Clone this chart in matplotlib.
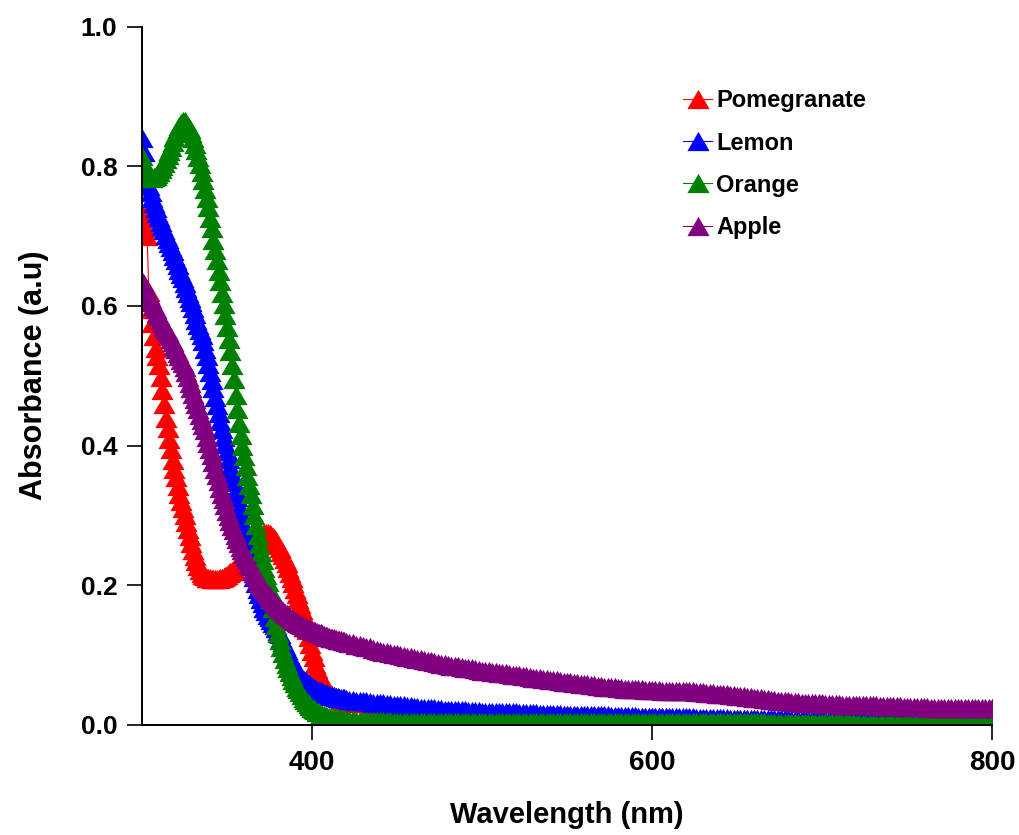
import matplotlib
matplotlib.use("Agg")
import matplotlib.pyplot as plt

plt.rcParams['font.family'] = ['Liberation Sans', 'DejaVu Sans']
plt.rcParams['font.weight'] = 'bold'

# wavelength grid (nm): 1 nm steps up to 419, then 2 nm steps
wavelength = list(range(300, 420)) + list(range(420, 801, 2))

pomegranate = [
    # 300-419 nm, 1 nm
    0.735, 0.725, 0.712, 0.700, 0.620, 0.595, 0.575, 0.557, 0.540, 0.528,
    0.515, 0.498, 0.480, 0.460, 0.440, 0.425, 0.410, 0.395, 0.380, 0.367,
    0.355, 0.342, 0.330, 0.320, 0.310, 0.300, 0.290, 0.280, 0.270, 0.260,
    0.250, 0.242, 0.235, 0.228, 0.222, 0.218, 0.215, 0.213, 0.211, 0.210,
    0.210, 0.209, 0.209, 0.209, 0.209, 0.209, 0.210, 0.211, 0.212, 0.213,
    0.215, 0.217, 0.219, 0.221, 0.224, 0.227, 0.230, 0.233, 0.237, 0.240,
    0.244, 0.247, 0.251, 0.254, 0.258, 0.261, 0.264, 0.267, 0.269, 0.271,
    0.273, 0.274, 0.275, 0.275, 0.275, 0.274, 0.272, 0.269, 0.266, 0.262,
    0.257, 0.253, 0.248, 0.243, 0.238, 0.232, 0.225, 0.218, 0.210, 0.203,
    0.195, 0.188, 0.180, 0.173, 0.165, 0.156, 0.146, 0.136, 0.126, 0.116,
    0.106, 0.097, 0.088, 0.080, 0.073, 0.067, 0.062, 0.057, 0.053, 0.050,
    0.047, 0.045, 0.043, 0.041, 0.040, 0.039, 0.038, 0.037, 0.036, 0.035,
    # 420-800 nm, 2 nm
    0.034, 0.033, 0.033, 0.032, 0.032, 0.031, 0.031, 0.030, 0.030, 0.029,
    0.029, 0.028, 0.028, 0.027, 0.027, 0.026, 0.026, 0.025, 0.025, 0.024,
    0.024, 0.023, 0.023, 0.023, 0.022, 0.022, 0.021, 0.021, 0.021, 0.020,
    0.020, 0.020, 0.019, 0.019, 0.019, 0.019, 0.018, 0.018, 0.018, 0.018,
    0.017, 0.017, 0.017, 0.017, 0.017, 0.016, 0.016, 0.016, 0.016, 0.016,
    0.016, 0.016, 0.015, 0.015, 0.015, 0.015, 0.015, 0.015, 0.015, 0.014,
    0.014, 0.014, 0.014, 0.014, 0.014, 0.014, 0.014, 0.014, 0.013, 0.013,
    0.013, 0.013, 0.013, 0.013, 0.013, 0.013, 0.013, 0.012, 0.012, 0.012,
    0.012, 0.012, 0.012, 0.012, 0.012, 0.012, 0.012, 0.011, 0.011, 0.011,
    0.011, 0.011, 0.011, 0.011, 0.011, 0.010, 0.010, 0.010, 0.010, 0.010,
    0.010, 0.010, 0.010, 0.010, 0.009, 0.009, 0.009, 0.009, 0.009, 0.009,
    0.009, 0.009, 0.009, 0.008, 0.008, 0.008, 0.008, 0.008, 0.008, 0.008,
    0.008, 0.008, 0.007, 0.007, 0.007, 0.007, 0.007, 0.007, 0.007, 0.007,
    0.007, 0.006, 0.006, 0.006, 0.006, 0.006, 0.006, 0.006, 0.006, 0.006,
    0.006, 0.005, 0.005, 0.005, 0.005, 0.005, 0.005, 0.005, 0.005, 0.005,
    0.005, 0.005, 0.005, 0.005, 0.004, 0.004, 0.004, 0.004, 0.004, 0.004,
    0.004, 0.004, 0.004, 0.004, 0.004, 0.004, 0.004, 0.004, 0.004, 0.004,
    0.004, 0.004, 0.004, 0.004, 0.004, 0.003, 0.003, 0.003, 0.003, 0.003,
    0.003, 0.003, 0.003, 0.003, 0.003, 0.003, 0.003, 0.003, 0.003, 0.003,
    0.003,
]

lemon = [
    # 300-419 nm, 1 nm
    0.840, 0.820, 0.800, 0.785, 0.772, 0.763, 0.755, 0.747, 0.740, 0.733,
    0.727, 0.720, 0.714, 0.708, 0.702, 0.696, 0.690, 0.684, 0.678, 0.671,
    0.665, 0.658, 0.652, 0.646, 0.640, 0.633, 0.626, 0.619, 0.612, 0.605,
    0.597, 0.589, 0.580, 0.573, 0.565, 0.558, 0.550, 0.539, 0.528, 0.517,
    0.505, 0.494, 0.482, 0.470, 0.458, 0.446, 0.435, 0.424, 0.413, 0.403,
    0.392, 0.381, 0.370, 0.359, 0.348, 0.337, 0.326, 0.314, 0.302, 0.290,
    0.279, 0.267, 0.255, 0.243, 0.231, 0.221, 0.212, 0.203, 0.195, 0.187,
    0.180, 0.174, 0.168, 0.163, 0.158, 0.154, 0.150, 0.146, 0.143, 0.139,
    0.135, 0.130, 0.125, 0.119, 0.113, 0.107, 0.102, 0.097, 0.092, 0.087,
    0.083, 0.079, 0.075, 0.071, 0.068, 0.065, 0.063, 0.061, 0.059, 0.057,
    0.055, 0.053, 0.052, 0.050, 0.049, 0.048, 0.047, 0.046, 0.045, 0.044,
    0.043, 0.042, 0.042, 0.041, 0.040, 0.040, 0.039, 0.039, 0.038, 0.038,
    # 420-800 nm, 2 nm
    0.037, 0.036, 0.036, 0.035, 0.035, 0.034, 0.034, 0.033, 0.032, 0.032,
    0.031, 0.031, 0.030, 0.030, 0.029, 0.029, 0.028, 0.028, 0.027, 0.027,
    0.026, 0.026, 0.025, 0.025, 0.025, 0.024, 0.024, 0.023, 0.023, 0.022,
    0.022, 0.022, 0.021, 0.021, 0.021, 0.021, 0.020, 0.020, 0.020, 0.020,
    0.019, 0.019, 0.019, 0.019, 0.019, 0.018, 0.018, 0.018, 0.018, 0.018,
    0.018, 0.017, 0.017, 0.017, 0.017, 0.017, 0.017, 0.016, 0.016, 0.016,
    0.016, 0.016, 0.016, 0.016, 0.015, 0.015, 0.015, 0.015, 0.015, 0.015,
    0.015, 0.014, 0.014, 0.014, 0.014, 0.014, 0.014, 0.014, 0.013, 0.013,
    0.013, 0.013, 0.013, 0.013, 0.013, 0.013, 0.012, 0.012, 0.012, 0.012,
    0.012, 0.012, 0.012, 0.012, 0.011, 0.011, 0.011, 0.011, 0.011, 0.011,
    0.011, 0.011, 0.011, 0.010, 0.010, 0.010, 0.010, 0.010, 0.010, 0.010,
    0.010, 0.010, 0.010, 0.009, 0.009, 0.009, 0.009, 0.009, 0.009, 0.009,
    0.009, 0.009, 0.008, 0.008, 0.008, 0.008, 0.008, 0.008, 0.008, 0.008,
    0.008, 0.007, 0.007, 0.007, 0.007, 0.007, 0.007, 0.007, 0.007, 0.007,
    0.006, 0.006, 0.006, 0.006, 0.006, 0.006, 0.006, 0.006, 0.006, 0.006,
    0.006, 0.006, 0.006, 0.006, 0.006, 0.006, 0.006, 0.006, 0.006, 0.006,
    0.006, 0.006, 0.006, 0.006, 0.006, 0.005, 0.005, 0.005, 0.005, 0.005,
    0.005, 0.005, 0.005, 0.005, 0.005, 0.005, 0.005, 0.005, 0.005, 0.005,
    0.005, 0.005, 0.005, 0.005, 0.005, 0.005, 0.005, 0.005, 0.005, 0.005,
    0.005,
]

orange = [
    # 300-419 nm, 1 nm
    0.815, 0.803, 0.795, 0.789, 0.785, 0.783, 0.783, 0.784, 0.786, 0.789,
    0.792, 0.796, 0.800, 0.805, 0.810, 0.816, 0.822, 0.828, 0.835, 0.842,
    0.848, 0.853, 0.858, 0.862, 0.865, 0.865, 0.862, 0.858, 0.853, 0.847,
    0.840, 0.832, 0.823, 0.813, 0.803, 0.792, 0.780, 0.768, 0.755, 0.741,
    0.726, 0.711, 0.695, 0.680, 0.665, 0.650, 0.635, 0.619, 0.603, 0.587,
    0.570, 0.553, 0.535, 0.515, 0.495, 0.473, 0.452, 0.433, 0.415, 0.400,
    0.385, 0.371, 0.357, 0.344, 0.330, 0.315, 0.300, 0.286, 0.272, 0.259,
    0.247, 0.236, 0.225, 0.215, 0.205, 0.193, 0.180, 0.167, 0.155, 0.143,
    0.132, 0.122, 0.112, 0.103, 0.095, 0.088, 0.082, 0.076, 0.070, 0.065,
    0.060, 0.055, 0.051, 0.047, 0.043, 0.039, 0.036, 0.033, 0.030, 0.027,
    0.025, 0.023, 0.021, 0.019, 0.018, 0.016, 0.015, 0.014, 0.013, 0.012,
    0.011, 0.011, 0.010, 0.010, 0.009, 0.009, 0.008, 0.008, 0.008, 0.007,
    # 420-800 nm, 2 nm
    0.007, 0.007, 0.007, 0.006, 0.006, 0.006, 0.006, 0.006, 0.006, 0.006,
    0.006, 0.006, 0.006, 0.006, 0.005, 0.005, 0.005, 0.005, 0.005, 0.005,
    0.005, 0.005, 0.005, 0.005, 0.005, 0.005, 0.005, 0.005, 0.005, 0.005,
    0.005, 0.005, 0.005, 0.005, 0.005, 0.005, 0.005, 0.005, 0.005, 0.005,
    0.005, 0.005, 0.005, 0.005, 0.005, 0.005, 0.005, 0.005, 0.005, 0.005,
    0.005, 0.005, 0.005, 0.005, 0.005, 0.005, 0.005, 0.005, 0.005, 0.005,
    0.005, 0.005, 0.005, 0.005, 0.005, 0.005, 0.005, 0.005, 0.005, 0.005,
    0.004, 0.004, 0.004, 0.004, 0.004, 0.004, 0.004, 0.004, 0.004, 0.004,
    0.004, 0.004, 0.004, 0.004, 0.004, 0.004, 0.004, 0.004, 0.004, 0.004,
    0.004, 0.004, 0.004, 0.004, 0.004, 0.004, 0.004, 0.004, 0.004, 0.004,
    0.004, 0.004, 0.004, 0.004, 0.004, 0.004, 0.004, 0.004, 0.004, 0.004,
    0.004, 0.004, 0.004, 0.004, 0.004, 0.004, 0.004, 0.004, 0.004, 0.004,
    0.004, 0.004, 0.004, 0.004, 0.003, 0.003, 0.003, 0.003, 0.003, 0.003,
    0.003, 0.003, 0.003, 0.003, 0.003, 0.003, 0.003, 0.003, 0.003, 0.003,
    0.003, 0.003, 0.003, 0.003, 0.003, 0.003, 0.003, 0.003, 0.003, 0.003,
    0.002, 0.002, 0.002, 0.002, 0.002, 0.002, 0.002, 0.002, 0.002, 0.002,
    0.002, 0.002, 0.002, 0.002, 0.002, 0.002, 0.002, 0.002, 0.002, 0.002,
    0.001, 0.001, 0.001, 0.001, 0.001, 0.001, 0.001, 0.001, 0.001, 0.001,
    0.000, 0.000, 0.000, 0.000, 0.000, 0.000, 0.000, 0.000, 0.000, 0.000,
    0.000,
]

apple = [
    # 300-419 nm, 1 nm
    0.635, 0.631, 0.626, 0.621, 0.616, 0.610, 0.605, 0.600, 0.595, 0.590,
    0.585, 0.580, 0.575, 0.570, 0.566, 0.562, 0.558, 0.553, 0.548, 0.543,
    0.538, 0.533, 0.528, 0.523, 0.518, 0.512, 0.505, 0.498, 0.490, 0.482,
    0.474, 0.467, 0.460, 0.452, 0.444, 0.437, 0.430, 0.422, 0.413, 0.404,
    0.395, 0.386, 0.376, 0.367, 0.358, 0.349, 0.340, 0.331, 0.323, 0.315,
    0.307, 0.299, 0.292, 0.285, 0.279, 0.272, 0.266, 0.260, 0.255, 0.250,
    0.245, 0.240, 0.236, 0.231, 0.227, 0.222, 0.218, 0.213, 0.209, 0.205,
    0.201, 0.197, 0.194, 0.191, 0.188, 0.185, 0.182, 0.179, 0.176, 0.173,
    0.171, 0.168, 0.166, 0.163, 0.161, 0.159, 0.157, 0.155, 0.153, 0.151,
    0.149, 0.147, 0.146, 0.144, 0.143, 0.141, 0.140, 0.139, 0.138, 0.137,
    0.136, 0.135, 0.134, 0.133, 0.132, 0.131, 0.130, 0.129, 0.128, 0.127,
    0.126, 0.125, 0.125, 0.124, 0.123, 0.122, 0.122, 0.121, 0.120, 0.120,
    # 420-800 nm, 2 nm
    0.119, 0.118, 0.117, 0.115, 0.114, 0.113, 0.112, 0.111, 0.109, 0.108,
    0.106, 0.105, 0.104, 0.103, 0.102, 0.101, 0.100, 0.099, 0.098, 0.097,
    0.096, 0.095, 0.094, 0.093, 0.092, 0.091, 0.090, 0.089, 0.088, 0.087,
    0.086, 0.085, 0.084, 0.084, 0.083, 0.082, 0.081, 0.081, 0.080, 0.079,
    0.078, 0.078, 0.077, 0.076, 0.076, 0.075, 0.074, 0.074, 0.073, 0.072,
    0.071, 0.071, 0.070, 0.070, 0.069, 0.068, 0.068, 0.067, 0.066, 0.066,
    0.065, 0.064, 0.064, 0.063, 0.062, 0.062, 0.061, 0.060, 0.060, 0.059,
    0.058, 0.058, 0.057, 0.057, 0.056, 0.056, 0.055, 0.055, 0.054, 0.054,
    0.053, 0.053, 0.052, 0.052, 0.052, 0.051, 0.051, 0.051, 0.050, 0.050,
    0.050, 0.050, 0.050, 0.049, 0.049, 0.049, 0.049, 0.049, 0.048, 0.048,
    0.048, 0.048, 0.048, 0.047, 0.047, 0.047, 0.046, 0.046, 0.046, 0.045,
    0.045, 0.044, 0.044, 0.043, 0.043, 0.042, 0.042, 0.041, 0.040, 0.040,
    0.039, 0.038, 0.038, 0.037, 0.037, 0.036, 0.036, 0.035, 0.035, 0.034,
    0.034, 0.033, 0.033, 0.033, 0.032, 0.032, 0.032, 0.031, 0.031, 0.031,
    0.031, 0.030, 0.030, 0.030, 0.030, 0.030, 0.029, 0.029, 0.029, 0.029,
    0.029, 0.028, 0.028, 0.028, 0.028, 0.028, 0.028, 0.027, 0.027, 0.027,
    0.027, 0.027, 0.027, 0.027, 0.026, 0.026, 0.026, 0.026, 0.026, 0.026,
    0.026, 0.026, 0.025, 0.025, 0.025, 0.025, 0.025, 0.025, 0.025, 0.025,
    0.025, 0.025, 0.025, 0.024, 0.024, 0.024, 0.024, 0.024, 0.024, 0.024,
    0.024,
]

series = [
    ("Pomegranate", pomegranate, "#ff0000"),
    ("Lemon", lemon, "#0000ff"),
    ("Orange", orange, "#008000"),
    ("Apple", apple, "#800080"),
]

# equilateral triangle, centred on its bounding box
tri = [(0, 0.5), (-0.577, -0.5), (0.577, -0.5), (0, 0.5)]

fig = plt.figure(figsize=(10.2, 8.35), dpi=100)
ax = fig.add_axes([142 / 1020, 1 - 725 / 835, (992 - 142) / 1020, 698.5 / 835])

for name, vals, col in series:
    ax.plot(wavelength, vals, color=col, lw=0.8, marker=tri, ms=16,
            mec=col, mew=0, mfc=col, label=name)

ax.set_xlim(300, 800)
ax.set_ylim(0, 1.0)
ax.set_xticks([400, 600, 800])
ax.set_yticks([0.0, 0.2, 0.4, 0.6, 0.8, 1.0])
ax.set_yticklabels(["0.0", "0.2", "0.4", "0.6", "0.8", "1.0"])

for s in ["top", "right"]:
    ax.spines[s].set_visible(False)
for s in ["left", "bottom"]:
    ax.spines[s].set_linewidth(1.4)

ax.tick_params(axis="both", direction="out", length=10.8, width=1.2, pad=7)
ax.tick_params(axis="x", labelsize=20)
ax.tick_params(axis="y", labelsize=19)

ax.set_xlabel("Wavelength (nm)", fontsize=21, fontweight="bold", labelpad=18)
ax.set_ylabel("Absorbance (a.u)", fontsize=22, fontweight="bold", labelpad=23)

leg = ax.legend(loc="upper left", bbox_to_anchor=(683 / 1020, 1 - 89.5 / 835),
                bbox_transform=fig.transFigure, frameon=False, fontsize=17,
                handlelength=1.23, handletextpad=0.17, labelspacing=0.81,
                borderpad=0, borderaxespad=0, numpoints=1)

fig.savefig("out.png", dpi=100)
